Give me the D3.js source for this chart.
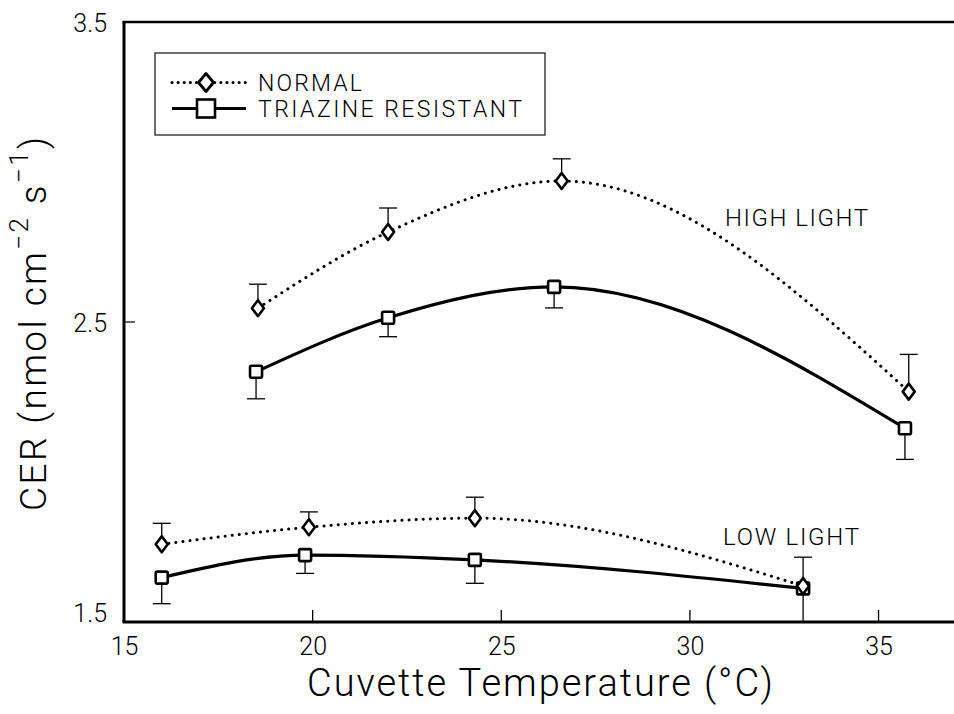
<!DOCTYPE html>
<html><head><meta charset="utf-8">
<script src="https://cdn.jsdelivr.net/npm/d3@7"></script>
<style>
html,body{margin:0;padding:0;background:#fff;}
svg{display:block;}
text{font-family:Roboto,"Liberation Sans",sans-serif;font-weight:300;fill:#000;}
</style></head>
<body>
<svg id="chart" width="954" height="714"></svg>
<script>
// ---- data ----
const xTicks = [15, 20, 25, 30, 35];
const yTicks = [1.5, 2.5, 3.5];
const seriesNames = ["NORMAL", "TRIAZINE RESISTANT"];
// High light
const normalHighT   = [18.55, 22.0, 26.6, 35.8];
const normalHighV   = [2.546, 2.800, 2.970, 2.268];
const normalHighErr = [0.080, 0.080, 0.074, 0.124];
const resistHighT   = [18.5, 22.0, 26.4, 35.7];
const resistHighV   = [2.334, 2.514, 2.617, 2.146];
const resistHighErr = [0.090, 0.063, 0.070, 0.104];
// Low light
const normalLowT    = [16.0, 19.9, 24.3, 33.0];
const normalLowV    = [1.759, 1.816, 1.846, 1.620];
const normalLowErr  = [0.070, 0.051, 0.070, 0.096];
const resistLowT    = [16.0, 19.8, 24.3, 33.0];
const resistLowV    = [1.648, 1.723, 1.707, 1.612];
const resistLowErr  = [0.087, 0.061, 0.078, 0.112];
const groupLabels = ["HIGH LIGHT", "LOW LIGHT"];

// ---- layout ----
const svg = d3.select("#chart");
const x = d3.scaleLinear().domain([15, 37]).range([124, 954]);
const y = d3.scaleLinear().domain([1.5, 3.5]).range([622, 22]);

const zip = (t, v, e) => t.map((d, i) => ({t: d, v: v[i], e: e[i]}));
const normalHigh = zip(normalHighT, normalHighV, normalHighErr);
const resistHigh = zip(resistHighT, resistHighV, resistHighErr);
const normalLow = zip(normalLowT, normalLowV, normalLowErr);
const resistLow = zip(resistLowT, resistLowV, resistLowErr);

// ---- axes ----
const xAxis = d3.axisBottom(x).tickValues(xTicks).tickSize(0).tickPadding(0).tickFormat(d3.format("d"));
const gx = svg.append("g").attr("transform", `translate(0,${y(1.5)})`).call(xAxis);
gx.select(".domain").remove();
gx.selectAll("text").attr("font-size", 25).attr("dy", null).attr("y", 33)
  .style("font-family", "Roboto, sans-serif").style("font-weight", 300);
svg.append("g").selectAll("line").data(xTicks.slice(1)).join("line")
  .attr("x1", d => x(d)).attr("x2", d => x(d))
  .attr("y1", y(1.5)).attr("y2", y(1.5) - 12)
  .attr("stroke", "#000").attr("stroke-width", 1.3);

const yAxis = d3.axisLeft(y).tickValues(yTicks).tickSize(0).tickPadding(17).tickFormat(d3.format(".1f"));
const gy = svg.append("g").attr("transform", `translate(${x(15)},0)`).call(yAxis);
gy.select(".domain").remove();
gy.selectAll("text").attr("font-size", 25)
  .style("font-family", "Roboto, sans-serif").style("font-weight", 300)
  .attr("dy", d => d === 1.5 ? "-0.02em" : "0.36em");
svg.append("g").selectAll("line").data(yTicks.slice(1, 2)).join("line")
  .attr("x1", x(15)).attr("x2", x(15) + 11)
  .attr("y1", d => y(d)).attr("y2", d => y(d))
  .attr("stroke", "#000").attr("stroke-width", 1.2);

// frame lines: left, bottom, top
svg.append("line").attr("x1", x(15)).attr("x2", x(15)).attr("y1", y(3.5)).attr("y2", y(1.5))
  .attr("stroke", "#000").attr("stroke-width", 3);
svg.append("line").attr("x1", x(15) - 1.5).attr("x2", 954).attr("y1", y(1.5)).attr("y2", y(1.5))
  .attr("stroke", "#000").attr("stroke-width", 3);
svg.append("line").attr("x1", x(15) - 1.5).attr("x2", 954).attr("y1", y(3.5)).attr("y2", y(3.5))
  .attr("stroke", "#000").attr("stroke-width", 2.6);

// axis titles
svg.append("text").attr("x", 307).attr("y", 696).attr("font-size", 38)
  .attr("textLength", 466).attr("lengthAdjust", "spacing")
  .text("Cuvette Temperature (°C)");

const yt = svg.append("text").attr("transform", "translate(46,511) rotate(-90)")
  .attr("font-size", 37).style("letter-spacing", "2.4px");
yt.append("tspan").text("CER (nmol cm");
yt.append("tspan").attr("dy", -18).attr("font-size", 26).text("\u2212" + "2");
yt.append("tspan").attr("dy", 18).text(" s");
yt.append("tspan").attr("dy", -18).attr("font-size", 26).text("\u2212" + "1");
yt.append("tspan").attr("dy", 18).text(")");

// ---- series ----
const line = d3.line().x(d => x(d.t)).y(d => y(d.v)).curve(d3.curveMonotoneX);
const dotted = {dash: "0.1,7", width: 3, cap: "round"};
const solid = {dash: null, width: 3.2, cap: "butt"};

function drawLine(data, st) {
  svg.append("path").datum(data).attr("d", line)
    .attr("fill", "none").attr("stroke", "#000")
    .attr("stroke-width", st.width).attr("stroke-linecap", st.cap)
    .attr("stroke-dasharray", st.dash);
}
function drawErr(data, dir) {
  const g = svg.append("g").attr("stroke", "#000").attr("stroke-width", 1.3);
  g.selectAll(".v").data(data).join("line")
    .attr("x1", d => x(d.t)).attr("x2", d => x(d.t))
    .attr("y1", d => y(d.v)).attr("y2", d => y(d.v + dir * d.e));
  g.selectAll(".c").data(data).join("line")
    .attr("x1", d => x(d.t) - 9).attr("x2", d => x(d.t) + 9)
    .attr("y1", d => y(d.v + dir * d.e)).attr("y2", d => y(d.v + dir * d.e));
}
function diamondPath(cx, cy, w, h) {
  return `M${cx},${cy - h / 2}L${cx + w / 2},${cy}L${cx},${cy + h / 2}L${cx - w / 2},${cy}Z`;
}
function drawDiamonds(data, w, h) {
  svg.append("g").selectAll("path").data(data).join("path")
    .attr("d", d => diamondPath(x(d.t), y(d.v), w, h))
    .attr("fill", "#fff").attr("stroke", "#000").attr("stroke-width", 2.6)
    .attr("stroke-linejoin", "round");
}
function drawSquares(data, s) {
  svg.append("g").selectAll("rect").data(data).join("rect")
    .attr("x", d => x(d.t) - s / 2).attr("y", d => y(d.v) - s / 2)
    .attr("width", s).attr("height", s).attr("rx", 1.5)
    .attr("fill", "#fff").attr("stroke", "#000").attr("stroke-width", 2.6);
}

drawErr(normalHigh, 1); drawErr(normalLow, 1);
drawErr(resistHigh, -1); drawErr(resistLow, -1);
drawLine(normalHigh, dotted); drawLine(normalLow, dotted);
drawLine(resistHigh, solid); drawLine(resistLow, solid);
drawSquares(resistHigh, 12); drawSquares(resistLow, 12);
drawDiamonds(normalHigh, 12, 16); drawDiamonds(normalLow, 12, 16);

// group labels
svg.append("text").attr("x", 725).attr("y", 226).attr("font-size", 24)
  .attr("textLength", 143).attr("lengthAdjust", "spacing").text(groupLabels[0]);
svg.append("text").attr("x", 723).attr("y", 545).attr("font-size", 24)
  .attr("textLength", 136).attr("lengthAdjust", "spacing").text(groupLabels[1]);

// ---- legend ----
const lg = svg.append("g");
lg.append("rect").attr("x", 155).attr("y", 53).attr("width", 390).attr("height", 82)
  .attr("fill", "#fff").attr("stroke", "#222").attr("stroke-width", 1.3);
const rows = [
  {name: seriesNames[0], yy: 82.5, st: dotted, m: "d", len: 104},
  {name: seriesNames[1], yy: 108.5, st: solid, m: "s", len: 264}
];
rows.forEach(r => {
  lg.append("line").attr("x1", 172).attr("x2", 246).attr("y1", r.yy).attr("y2", r.yy)
    .attr("stroke", "#000").attr("stroke-width", r.st.width)
    .attr("stroke-dasharray", r.m === "d" ? "0.1,6" : null)
    .attr("stroke-linecap", r.st.cap);
  if (r.m === "d") {
    lg.append("path").attr("d", diamondPath(206, r.yy, 15, 18))
      .attr("fill", "#fff").attr("stroke", "#000").attr("stroke-width", 2.8).attr("stroke-linejoin", "round");
  } else {
    lg.append("rect").attr("x", 206 - 9).attr("y", r.yy - 9).attr("width", 18).attr("height", 18)
      .attr("fill", "#fff").attr("stroke", "#000").attr("stroke-width", 2.6);
  }
  lg.append("text").attr("x", 258).attr("y", r.yy + 8).attr("font-size", 23)
    .attr("textLength", r.len).attr("lengthAdjust", "spacing").text(r.name);
});
</script>
</body></html>
